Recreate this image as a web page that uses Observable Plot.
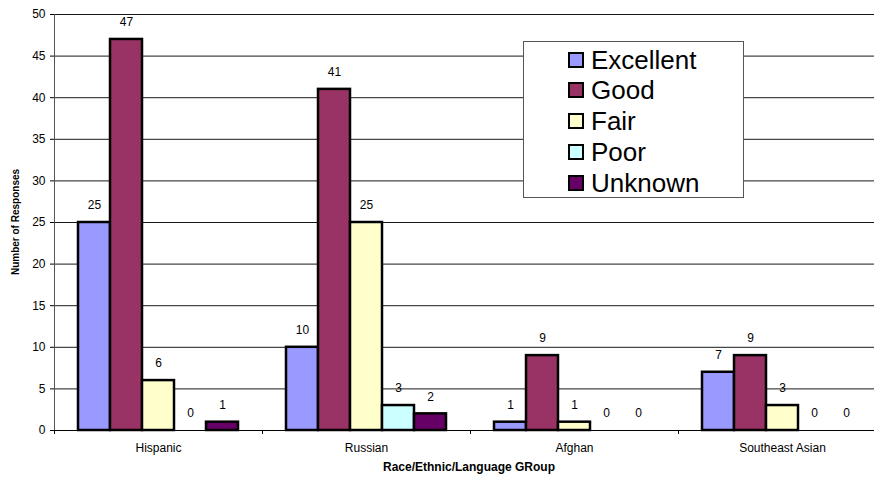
<!DOCTYPE html>
<html>
<head>
<meta charset="utf-8">
<script src="https://cdn.jsdelivr.net/npm/d3@7"></script>
<script src="https://cdn.jsdelivr.net/npm/@observablehq/plot@0.6"></script>
<style>
  html, body { margin: 0; padding: 0; background: #fff; }
  #wrap { position: relative; width: 874px; height: 477px; overflow: hidden; font-family: "Liberation Sans", Arial, sans-serif; }
  #chart svg { display: block; overflow: hidden; }
  .ytitle { position: absolute; left: 15px; top: 222px; transform: translate(-50%, -50%) rotate(-90deg); font-size: 10px; font-weight: bold; white-space: nowrap; color: #000; }
  .xtitle { position: absolute; left: 469px; top: 461px; transform: translateX(-50%); font-size: 12px; font-weight: bold; white-space: nowrap; line-height: 13px; color: #000; }
  .legend { position: absolute; left: 523px; top: 41px; width: 221px; height: 157px; border: 1px solid #555; background: #fff; box-sizing: border-box; }
  .legend .row { position: absolute; left: 44px; height: 30px; display: flex; align-items: center; font-size: 26px; color: #000; }
  .legend .sw { width: 12px; height: 12px; border: 2px solid #000; margin-right: 7px; }
</style>
</head>
<body>
<div id="wrap">
  <div id="chart"></div>
  <div class="ytitle">Number of Responses</div>
  <div class="xtitle">Race/Ethnic/Language GRoup</div>
  <div class="legend" id="legend"></div>
</div>
<script>
const categories = ["Hispanic", "Russian", "Afghan", "Southeast Asian"];
const ratings = ["Excellent", "Good", "Fair", "Poor", "Unknown"];
const excellent = [25, 10, 1, 7];
const good = [47, 41, 9, 9];
const fair = [6, 25, 1, 3];
const poor = [0, 3, 0, 0];
const unknown = [1, 2, 0, 0];
const colors = ["#9999FF", "#993366", "#FFFFCC", "#CCFFFF", "#660066"];
const yTicks = [0, 5, 10, 15, 20, 25, 30, 35, 40, 45, 50];

const series = [excellent, good, fair, poor, unknown];
const rows = [];
categories.forEach((c, i) => {
  ratings.forEach((r, j) => rows.push({cat: c, rating: r, value: series[j][i]}));
});

const font = '"Liberation Sans", Arial, sans-serif';

const plot = Plot.plot({
  width: 874,
  height: 477,
  marginTop: 14,
  marginBottom: 47,
  marginLeft: 53,
  marginRight: -12.5,
  style: {fontFamily: font, fontSize: "12px", color: "#000", background: "#fff"},
  fx: {domain: categories, paddingInner: 0, paddingOuter: 0, label: null},
  x: {domain: ratings, paddingInner: 0, paddingOuter: 0.716, axis: null},
  y: {domain: [0, 50], label: null},
  color: {domain: ratings, range: colors},
  marks: [
    Plot.gridY(yTicks.filter(d => d > 0), {stroke: "#000", strokeOpacity: 0.9, strokeWidth: 1}),
    Plot.barY(rows.filter(d => d.value > 0), {
      fx: "cat", x: "rating", y: "value", fill: "rating",
      stroke: "#000", strokeWidth: 2.5
    }),
    Plot.ruleY([0], {stroke: "#000", strokeWidth: 1}),
    Plot.text(rows, {
      fx: "cat", x: "rating", y: "value", text: d => String(d.value),
      dy: -17, fontSize: 12, fill: "#000"
    }),
    Plot.axisY({ticks: yTicks, tickSize: 4, tickPadding: 5, label: null, fontSize: 12}),
    Plot.axisFx({anchor: "bottom", tickSize: 0, tickPadding: 13, label: null, fontSize: 12})
  ]
});

document.getElementById("chart").appendChild(plot);

// y-axis line and category separator ticks, positioned through Plot's scales
const svg = d3.select(plot);
const yS = plot.scale("y");
const fxS = plot.scale("fx");
const y0 = yS.apply(0), y50 = yS.apply(50);
const x0 = fxS.apply(categories[0]);
svg.append("line")
  .attr("x1", x0 + 0.5).attr("x2", x0 + 0.5)
  .attr("y1", y50).attr("y2", y0)
  .attr("stroke", "#555").attr("stroke-width", 1);
categories.forEach(c => {
  const xx = Math.round(fxS.apply(c)) + 0.5;
  svg.append("line")
    .attr("x1", xx).attr("x2", xx)
    .attr("y1", y0).attr("y2", y0 + 4)
    .attr("stroke", "#000").attr("stroke-width", 1);
});

// legend
const leg = document.getElementById("legend");
const rowTops = [3, 33, 64, 95, 126];
ratings.forEach((r, i) => {
  const row = document.createElement("div");
  row.className = "row";
  row.style.top = rowTops[i] + "px";
  const sw = document.createElement("div");
  sw.className = "sw";
  sw.style.background = colors[i];
  const t = document.createElement("span");
  t.textContent = r;
  row.appendChild(sw);
  row.appendChild(t);
  leg.appendChild(row);
});
</script>
</body>
</html>
